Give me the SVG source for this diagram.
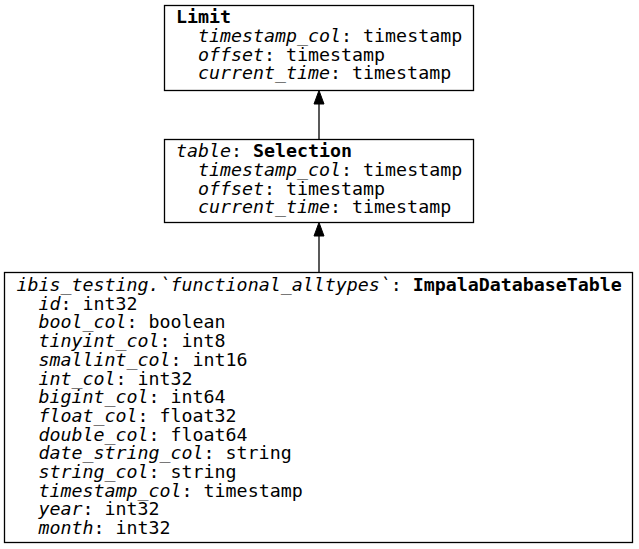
<svg xmlns="http://www.w3.org/2000/svg" width="639" height="549" viewBox="0 0 639 549">
<style>
  .box { fill: #ffffff; stroke: #000000; stroke-width: 1.3; }
  .edge { stroke: #000000; stroke-width: 1.3; fill: none; }
  .head { fill: #000000; stroke: #000000; stroke-width: 1; }
  text { font-family: "DejaVu Sans Mono", "Liberation Mono", monospace; font-size: 18.3px; fill: #000000; }
  .i { font-style: italic; }
  .b { font-weight: bold; }
</style>
<rect width="639" height="549" fill="#ffffff"/>
<g id="connectors">
  <line class="edge" x1="319" y1="139.5" x2="319" y2="104"/>
  <polygon class="head" points="319,90.5 314,104 324,104"/>
  <line class="edge" x1="319" y1="272.5" x2="319" y2="236"/>
  <polygon class="head" points="319,222.5 314,236 324,236"/>
</g>
<g id="node-limit">
  <rect class="box" x="164.5" y="5.5" width="309" height="85"/>
  <text x="176" y="23.3"><tspan class="b">Limit</tspan></text>
  <text x="198" y="42"><tspan class="i">timestamp_col</tspan>: timestamp</text>
  <text x="198" y="60.7"><tspan class="i">offset</tspan>: timestamp</text>
  <text x="198" y="79.4"><tspan class="i">current_time</tspan>: timestamp</text>
</g>
<g id="node-selection">
  <rect class="box" x="164.5" y="139.5" width="309" height="83"/>
  <text x="176" y="157.3"><tspan class="i">table</tspan>: <tspan class="b">Selection</tspan></text>
  <text x="198" y="176"><tspan class="i">timestamp_col</tspan>: timestamp</text>
  <text x="198" y="194.7"><tspan class="i">offset</tspan>: timestamp</text>
  <text x="198" y="213.4"><tspan class="i">current_time</tspan>: timestamp</text>
</g>
<g id="node-table">
  <rect class="box" x="4.5" y="272.5" width="628" height="270"/>
  <text x="16.5" y="291"><tspan class="i">ibis_testing.`functional_alltypes`</tspan>: <tspan class="b">ImpalaDatabaseTable</tspan></text>
  <text x="38.5" y="309.7"><tspan class="i">id</tspan>: int32</text>
  <text x="38.5" y="328.4"><tspan class="i">bool_col</tspan>: boolean</text>
  <text x="38.5" y="347.1"><tspan class="i">tinyint_col</tspan>: int8</text>
  <text x="38.5" y="365.8"><tspan class="i">smallint_col</tspan>: int16</text>
  <text x="38.5" y="384.5"><tspan class="i">int_col</tspan>: int32</text>
  <text x="38.5" y="403.2"><tspan class="i">bigint_col</tspan>: int64</text>
  <text x="38.5" y="421.9"><tspan class="i">float_col</tspan>: float32</text>
  <text x="38.5" y="440.6"><tspan class="i">double_col</tspan>: float64</text>
  <text x="38.5" y="459.3"><tspan class="i">date_string_col</tspan>: string</text>
  <text x="38.5" y="478"><tspan class="i">string_col</tspan>: string</text>
  <text x="38.5" y="496.7"><tspan class="i">timestamp_col</tspan>: timestamp</text>
  <text x="38.5" y="515.4"><tspan class="i">year</tspan>: int32</text>
  <text x="38.5" y="534.1"><tspan class="i">month</tspan>: int32</text>
</g>
</svg>
